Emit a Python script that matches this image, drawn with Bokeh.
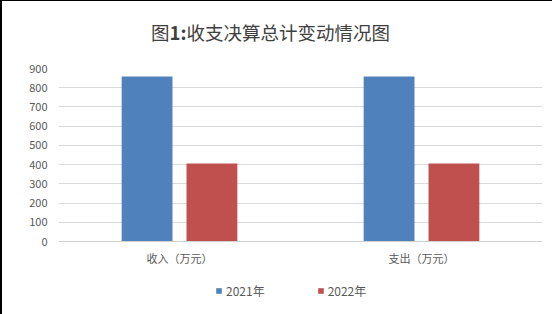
from bokeh.plotting import figure
from bokeh.layouts import column
from bokeh.models import (FactorRange, Range1d, FixedTicker, Legend, LegendItem,
                          Div, ColumnDataSource)
from bokeh.transform import dodge
from bokeh.embed import file_html
from bokeh.resources import INLINE

categories = ["收入（万元）", "支出（万元）"]
series_names = ["2021年", "2022年"]
values_2021 = [858, 858]
values_2022 = [406, 406]
y_ticks = [0, 100, 200, 300, 400, 500, 600, 700, 800, 900]
title_parts = ["图", "1:", "收支决算总计变动情况图"]

FONT = "Noto Sans CJK SC"
TXT = "#595959"
BLUE = "#4F81BD"
RED = "#C0504D"

src = ColumnDataSource(dict(cat=categories, y1=values_2021, y2=values_2022))

title_div = Div(
    text=f"{title_parts[0]}<b>{title_parts[1]}</b>{title_parts[2]}",
    width=550, height=40,
    styles={"font-family": FONT, "font-size": "18.5px", "color": "#404040",
            "text-align": "left", "padding-left": "144px", "padding-top": "15px",
            "line-height": "22px", "background": "white", "white-space": "nowrap"})

# frame spans from the 900 gridline down to the bottom of the page;
# the area below 0 holds category labels and the legend
FRAME_H = 246
PX_PER_900 = 173
y_low = -(FRAME_H - PX_PER_900) * 900 / PX_PER_900

p = figure(width=550, height=263, output_backend="svg", toolbar_location=None,
           x_range=FactorRange(*categories, range_padding=0),
           y_range=Range1d(y_low, 900), title=None,
           min_border_left=56, min_border_right=10,
           min_border_top=17, min_border_bottom=0)
p.outline_line_color = None
p.background_fill_color = "white"
p.border_fill_color = "white"

r1 = p.vbar(x=dodge("cat", -0.134, range=p.x_range), top="y1", bottom=0, width=0.21,
            source=src, fill_color=BLUE, line_color=None)
r2 = p.vbar(x=dodge("cat", 0.134, range=p.x_range), top="y2", bottom=0, width=0.21,
            source=src, fill_color=RED, line_color=None)

p.xgrid.grid_line_color = None
p.ygrid.ticker = FixedTicker(ticks=y_ticks)
p.ygrid.grid_line_color = "#D9D9D9"
p.ygrid.grid_line_width = 1

p.yaxis.ticker = FixedTicker(ticks=y_ticks)
p.yaxis.axis_line_color = None
p.yaxis.major_tick_line_color = None
p.yaxis.minor_tick_line_color = None
p.yaxis.major_tick_out = 0
p.yaxis.major_label_standoff = 11
p.yaxis.major_label_text_font = FONT
p.yaxis.major_label_text_font_size = "11px"
p.yaxis.major_label_text_color = TXT

p.xaxis.fixed_location = 0
p.xaxis.axis_line_color = "#D0D0D0"
p.xaxis.axis_line_width = 1
p.xaxis.major_tick_line_color = None
p.xaxis.minor_tick_line_color = None
p.xaxis.major_tick_out = 0
p.xaxis.major_label_standoff = 8
p.xaxis.major_label_text_font = FONT
p.xaxis.major_label_text_font_size = "11px"
p.xaxis.major_label_text_color = TXT

legend = Legend(items=[LegendItem(label=series_names[0], renderers=[r1]),
                       LegendItem(label=series_names[1], renderers=[r2])],
                orientation="horizontal", location=(157, 15),
                padding=0, margin=0, spacing=52,
                glyph_width=7, glyph_height=7, label_standoff=4,
                label_height=12, label_text_font=FONT,
                label_text_font_size="12px", label_text_color=TXT,
                border_line_color=None, background_fill_alpha=0)
p.add_layout(legend, "center")

layout = column(title_div, p, spacing=0,
                styles={"border-left": "2px solid #000000",
                        "border-top": "1px solid #000000",
                        "background": "white"})

open("out.html", "w").write(file_html(layout, INLINE))
